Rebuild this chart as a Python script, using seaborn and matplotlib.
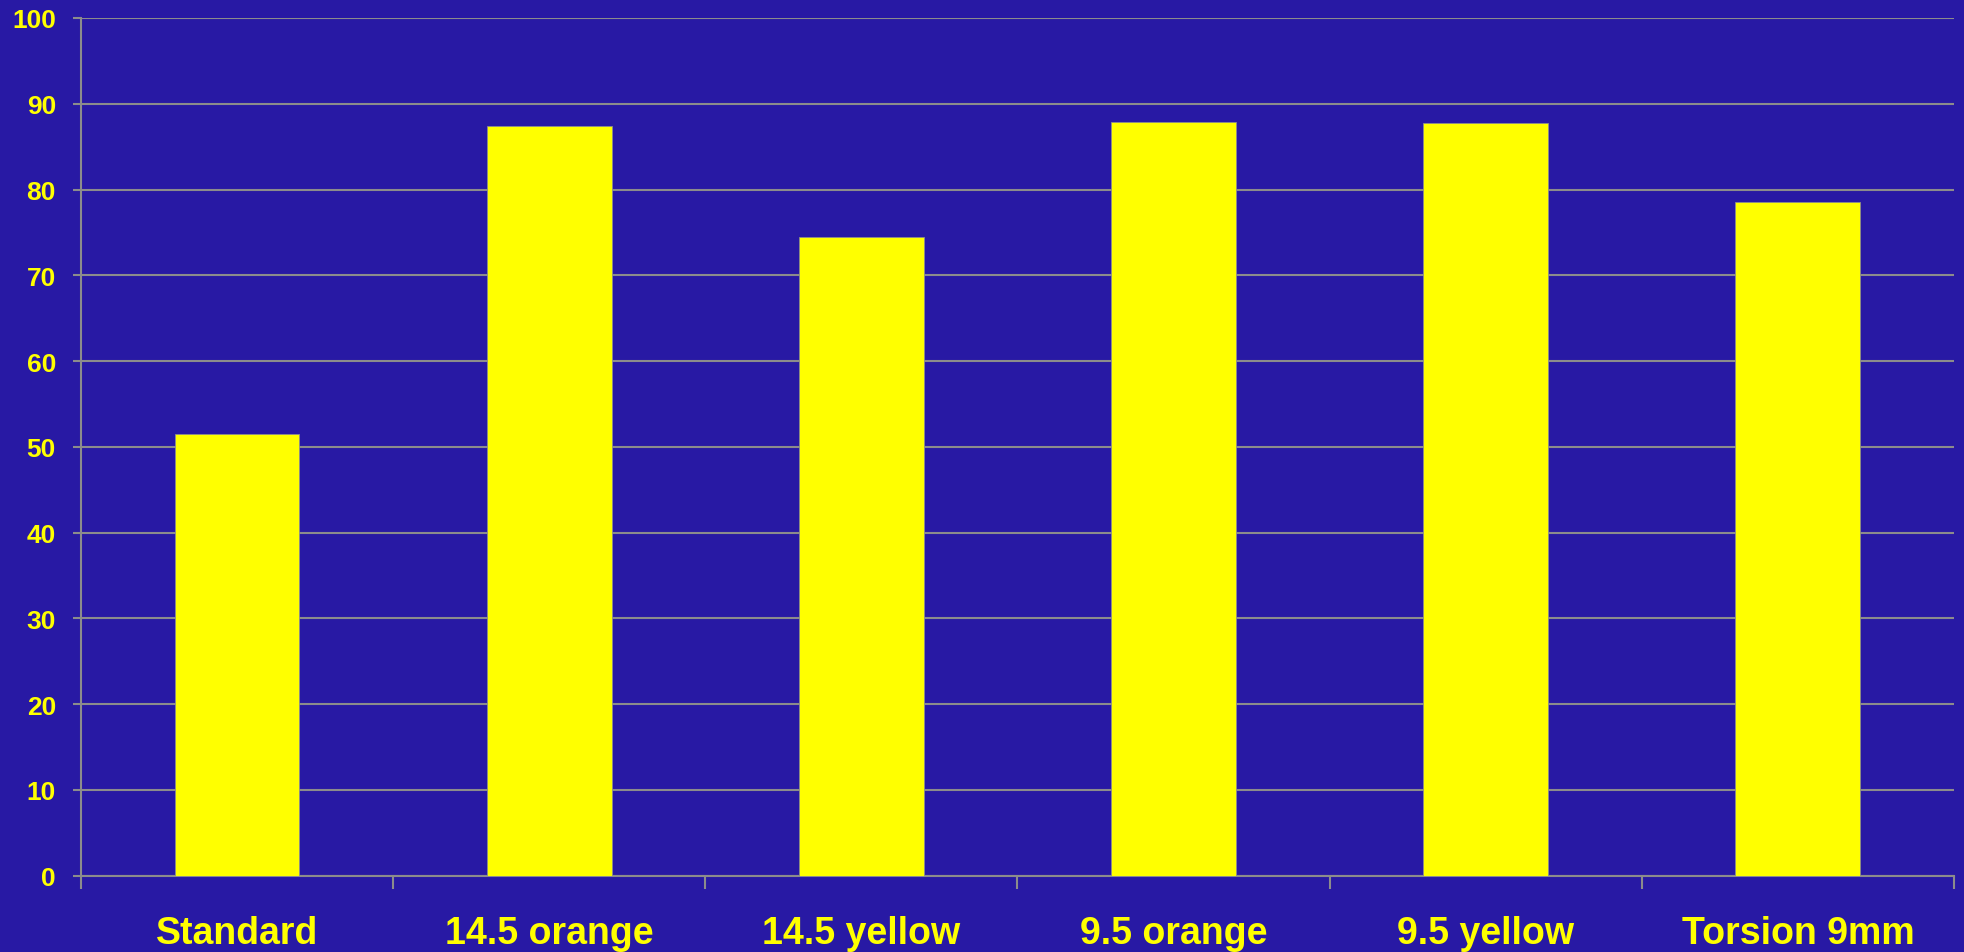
import pandas as pd
import matplotlib.pyplot as plt
import seaborn as sns
import numpy as np

# CONSTANT: Colors
BG_COLOR = '#2819A4'
BAR_COLOR = '#FFFF00'
GRID_COLOR = '#8C8C8C'
TEXT_COLOR = '#FFFF00'

# DATA
categories = ['Standard', '14.5 orange', '14.5 yellow', '9.5 orange', '9.5 yellow', 'Torsion 9mm']
values = [51.5, 87.4, 74.5, 87.9, 87.7, 78.5]
y_ticks = [0, 10, 20, 30, 40, 50, 60, 70, 80, 90, 100]

df = pd.DataFrame({'Category': categories, 'Value': values})

sns.set_style('white')
plt.rcParams['font.family'] = ['Liberation Sans', 'DejaVu Sans']

# GRAPH: Settings
fig = plt.figure(figsize=(19.65, 9.53), dpi=100, facecolor=BG_COLOR)
ax = fig.add_axes([0.0412, 0.0801, 0.9532, 0.9])
ax.set_facecolor(BG_COLOR)

sns.barplot(data=df, x='Category', y='Value', color=BAR_COLOR, saturation=1,
            width=0.4, edgecolor=GRID_COLOR, linewidth=0.6, ax=ax, zorder=3)

ax.set_xlim(-0.5, len(categories) - 0.5)
ax.set_ylim(0, 100)
ax.set_yticks(y_ticks)
ax.yaxis.grid(True, color=GRID_COLOR, linewidth=1.5, zorder=0)
ax.set_axisbelow(True)

# x ticks at category boundaries, labels at centres
ax.set_xticks(np.arange(len(categories)))
ax.set_xticklabels(categories)
ax.set_xticks(np.arange(len(categories) + 1) - 0.5, minor=True)
ax.tick_params(axis='x', which='major', bottom=True, length=0, pad=28, labelsize=27, labelcolor=TEXT_COLOR)
ax.tick_params(axis='x', which='minor', bottom=True, length=9, width=1.5, color=GRID_COLOR, direction='out')
ax.tick_params(axis='y', left=True, length=6, width=1.5, color=GRID_COLOR, pad=12, labelsize=19, labelcolor=TEXT_COLOR)
for lab in ax.get_xticklabels() + ax.get_yticklabels():
    lab.set_fontweight('bold')

for side in ['top', 'right']:
    ax.spines[side].set_visible(False)
for side in ['left', 'bottom']:
    ax.spines[side].set_color(GRID_COLOR)
    ax.spines[side].set_linewidth(1.5)

ax.set_xlabel('')
ax.set_ylabel('')

plt.savefig('out.png', dpi=100, facecolor=BG_COLOR)
